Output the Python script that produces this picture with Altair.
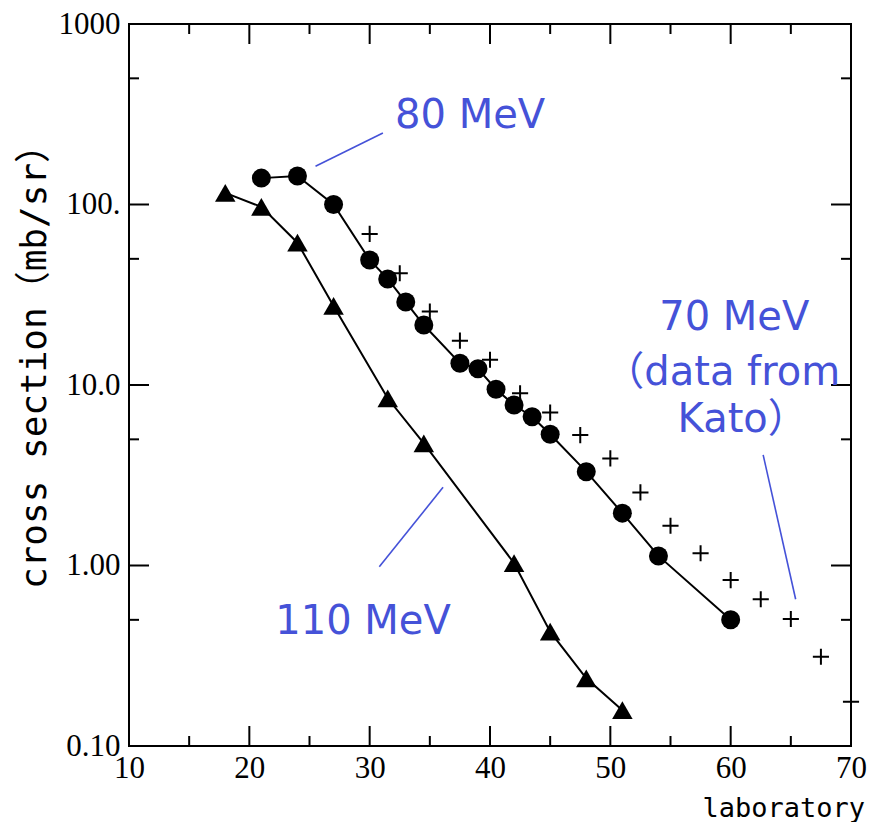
import altair as alt
import pandas as pd

# 80 MeV angular distribution (filled circles joined by a line)
angle_80 = [21, 24, 27, 30, 31.5, 33, 34.5, 37.5, 39, 40.5, 42, 43.5, 45, 48, 51, 54, 60]
xs_80 = [140, 144, 100, 49.3, 38.7, 28.8, 21.5, 13.2, 12.3, 9.47, 7.75, 6.67, 5.33,
         3.31, 1.95, 1.13, 0.50]

# 110 MeV angular distribution (filled triangles joined by a line)
angle_110 = [18, 21, 24, 27, 31.5, 34.5, 42, 45, 48, 51]
xs_110 = [116, 97, 61.4, 27.4, 8.44, 4.75, 1.03, 0.43, 0.237, 0.158]

# 70 MeV measurements from Kato (plus signs)
angle_70 = [30, 32.5, 35, 37.5, 40, 42.5, 45, 47.5, 50, 52.5, 55, 57.5, 60, 62.5, 65, 67.5, 70]
xs_70 = [68.7, 41.6, 25.5, 17.6, 13.8, 9.0, 7.03, 5.28, 3.92, 2.54, 1.66, 1.17, 0.83,
         0.65, 0.505, 0.312, 0.176]

# axis ticks
x_labels = [10, 20, 30, 40, 50, 60, 70]
y_labels = [0.1, 1, 10, 100, 1000]
y_label_text = ["0.10", "1.00", "10.0", "100.", "1000"]
x_major = [20, 30, 40, 50, 60]
x_minor = [15, 25, 35, 45, 55, 65]
y_major = [1, 10, 100]
y_minor = [0.5, 5, 50, 500]

# axis titles
x_title = "laboratory"
y_title = "cross section（mb/sr）"

# annotation texts (anchored at their baseline) and their leader lines
note_text = ["80 MeV", "110 MeV", "70 MeV", "（data from", "Kato）"]
note_x = [38.35, 29.45, 60.3, 59.3, 61.0]
note_y = [265, 0.417, 20.2, 10.0, 5.49]
lead_x = [25.5, 36.1, 62.7]
lead_x2 = [31.1, 30.8, 65.4]
lead_y = [163, 2.71, 4.10]
lead_y2 = [249, 0.985, 0.65]

W = H = 722
BLUE = "#4552d8"
SERIF = "Liberation Serif"
SANS = "DejaVu Sans, Noto Sans CJK JP"
MONO = "DejaVu Sans Mono, Noto Sans CJK JP"

df80 = pd.DataFrame({"angle": angle_80, "xs": xs_80})
df110 = pd.DataFrame({"angle": angle_110, "xs": xs_110})
df70 = pd.DataFrame({"angle": angle_70, "xs": xs_70})

label_map = " : ".join(
    f"datum.value == {v} ? '{t}'" for v, t in zip(y_labels, y_label_text)
) + " : ''"

xscale = alt.Scale(domain=[10, 70], nice=False, zero=False)
yscale = alt.Scale(type="log", domain=[0.1, 1000], nice=False)

X = alt.X(
    "angle:Q",
    scale=xscale,
    title=None,
    axis=alt.Axis(
        values=x_labels, format="d", domain=False, ticks=False, grid=False,
        labelFont=SERIF, labelFontSize=31, labelColor="black", labelPadding=7,
        labelFlush=False, labelOverlap=False,
    ),
)
Y = alt.Y(
    "xs:Q",
    scale=yscale,
    title=None,
    axis=alt.Axis(
        values=y_labels, labelExpr=label_map, domain=False, ticks=False, grid=False,
        labelFont=SERIF, labelFontSize=31, labelColor="black", labelPadding=9,
        labelFlush=False, labelOverlap=False, labelBaseline="middle",
    ),
)

line80 = alt.Chart(df80).mark_line(color="black", strokeWidth=2).encode(x=X, y=Y, order="angle:Q")
pts80 = alt.Chart(df80).mark_point(shape="circle", filled=True, color="black", size=361, opacity=1).encode(x=X, y=Y)
line110 = alt.Chart(df110).mark_line(color="black", strokeWidth=2).encode(x=X, y=Y, order="angle:Q")
pts110 = alt.Chart(df110).mark_point(shape="triangle-up", filled=True, color="black", size=420, opacity=1).encode(x=X, y=Y)
plus70 = alt.Chart(df70).mark_point(
    shape="M-1,0H1M0,-1V1", filled=False, color="black", strokeWidth=2, size=260, opacity=1
).encode(x=X, y=Y)

# inward-pointing tick marks on all four sides
def xticks(vals, length):
    d = pd.DataFrame({"t": vals})
    bottom = alt.Chart(d).mark_rule(color="black", strokeWidth=2).encode(
        x=alt.X("t:Q", scale=xscale), y=alt.value(H), y2=alt.value(H - length))
    top = alt.Chart(d).mark_rule(color="black", strokeWidth=2).encode(
        x=alt.X("t:Q", scale=xscale), y=alt.value(0), y2=alt.value(length))
    return bottom + top

def yticks(vals, length):
    d = pd.DataFrame({"t": vals})
    left = alt.Chart(d).mark_rule(color="black", strokeWidth=2).encode(
        y=alt.Y("t:Q", scale=yscale), x=alt.value(0), x2=alt.value(length))
    right = alt.Chart(d).mark_rule(color="black", strokeWidth=2).encode(
        y=alt.Y("t:Q", scale=yscale), x=alt.value(W), x2=alt.value(W - length))
    return left + right

ticks = xticks(x_major, 20) + xticks(x_minor, 10) + yticks(y_major, 20) + yticks(y_minor, 10)

notes = alt.Chart(pd.DataFrame({"x": note_x, "y": note_y, "text": note_text})).mark_text(
    font=SANS, fontSize=40, color=BLUE, align="center", baseline="alphabetic"
).encode(x=alt.X("x:Q", scale=xscale), y=alt.Y("y:Q", scale=yscale), text="text:N")

leaders = alt.Chart(pd.DataFrame({"x": lead_x, "x2": lead_x2, "y": lead_y, "y2": lead_y2})).mark_rule(
    color=BLUE, strokeWidth=1.6
).encode(
    x=alt.X("x:Q", scale=xscale), x2="x2:Q",
    y=alt.Y("y:Q", scale=yscale), y2="y2:Q",
)

xtitle = alt.Chart(pd.DataFrame({"t": [x_title]})).mark_text(
    font=MONO, fontSize=27, color="black", align="right", baseline="alphabetic"
).encode(x=alt.value(736), y=alt.value(793), text="t:N")

ytitle = alt.Chart(pd.DataFrame({"t": [y_title]})).mark_text(
    font=MONO, fontSize=36, color="black", align="center", baseline="alphabetic", angle=270
).encode(x=alt.value(-83), y=alt.value(334), text="t:N")

chart = alt.layer(
    ticks, leaders, line110, line80, pts110, pts80, plus70, notes, xtitle, ytitle
).properties(
    width=W, height=H,
    autosize=alt.AutoSizeParams(type="none"),
    padding={"left": 129, "top": 24, "right": 20, "bottom": 76},
    background="white",
).configure_view(
    stroke="black", strokeWidth=2
)

chart.save("out.html", embed_options={"renderer": "svg", "actions": False})
